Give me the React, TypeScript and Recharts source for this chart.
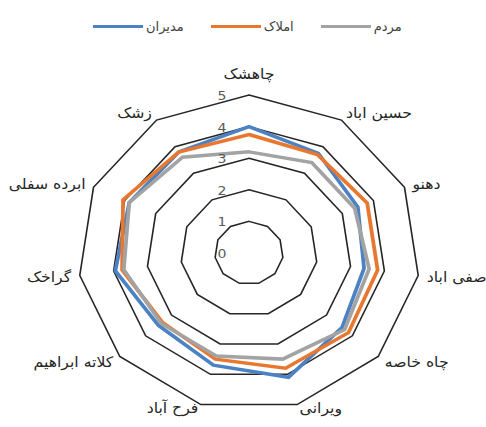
import { PolarAngleAxis, PolarGrid, PolarRadiusAxis, Radar, RadarChart } from "recharts";

const categories = [
  "چاهشک",
  "حسین اباد",
  "دهنو",
  "صفی اباد",
  "چاه خاصه",
  "ویرانی",
  "فرح آباد",
  "کلاته ابراهیم",
  "گراخک",
  "ابرده سفلی",
  "زشک",
];
const managers = [4.0, 3.75, 3.5, 3.4, 3.6, 4.1, 3.7, 3.5, 3.95, 3.85, 3.8];
const estates = [3.75, 3.7, 3.8, 3.8, 3.85, 3.8, 3.5, 3.35, 3.75, 4.05, 3.8];
const people = [3.2, 3.4, 3.4, 3.55, 3.7, 3.5, 3.4, 3.4, 3.7, 3.85, 3.6];
const radiusDomain = [0, 5];

const series = [
  { key: "managers", name: "مدیران", color: "#4A82C3", values: managers },
  { key: "estates", name: "املاک", color: "#E8782F", values: estates },
  { key: "people", name: "مردم", color: "#A3A3A3", values: people },
];

const data = categories.map((name, i) => {
  const row: Record<string, string | number> = { name };
  series.forEach((s) => (row[s.key] = s.values[i]));
  return row;
});

const FONT = "'DejaVu Sans', sans-serif";
const CX = 249;
const CY = 253;

const AngleTick = ({ x, y, textAnchor, payload }: any) => {
  let dy = 5;
  if (textAnchor === "middle") dy = -8;
  else if (y > CY + 120) dy = 1;
  return (
    <text x={x} y={y + dy} textAnchor={textAnchor} fontSize={14.5} fill="#262626" fontFamily={FONT}>
      {payload.value}
    </text>
  );
};

const RadiusTick = ({ x, y, payload }: any) => (
  <text x={x - 25} y={y + 5} textAnchor="middle" fontSize={13} fill="#595959" fontFamily={FONT}>
    {payload.value}
  </text>
);

export default function App() {
  return (
    <div style={{ position: "absolute", left: 0, top: 0, width: 486, height: 427, background: "#fff", overflow: "hidden" }}>
      <div
        style={{
          position: "absolute",
          top: 19,
          left: 93,
          display: "flex",
          alignItems: "center",
          gap: 27,
          fontFamily: FONT,
          fontSize: 13,
          color: "#404040",
        }}
      >
        {series.map((s) => (
          <div key={s.key} style={{ display: "flex", alignItems: "center", gap: 3 }}>
            <span style={{ display: "inline-block", width: 50, height: 3.5, background: s.color }} />
            <span>{s.name}</span>
          </div>
        ))}
      </div>
      <div style={{ position: "absolute", left: 0, top: 0, transform: "scaleX(1.082)", transformOrigin: `${CX}px 0` }}>
        <RadarChart width={486} height={427} data={data} cx={CX} cy={CY} outerRadius={158} margin={{ top: 0, right: 0, bottom: 0, left: 0 }}>
          <PolarGrid gridType="polygon" radialLines={false} stroke="#262626" strokeWidth={1.5} />
          <PolarAngleAxis dataKey="name" axisLine={false} tickLine={false} tick={<AngleTick />} />
          <PolarRadiusAxis angle={90} domain={radiusDomain} tickCount={6} axisLine={false} tickLine={false} tick={<RadiusTick />} />
          {series.map((s) => (
            <Radar
              key={s.key}
              name={s.name}
              dataKey={s.key}
              stroke={s.color}
              strokeWidth={3.5}
              fill="none"
              fillOpacity={0}
              dot={false}
              isAnimationActive={false}
            />
          ))}
        </RadarChart>
      </div>
    </div>
  );
}
